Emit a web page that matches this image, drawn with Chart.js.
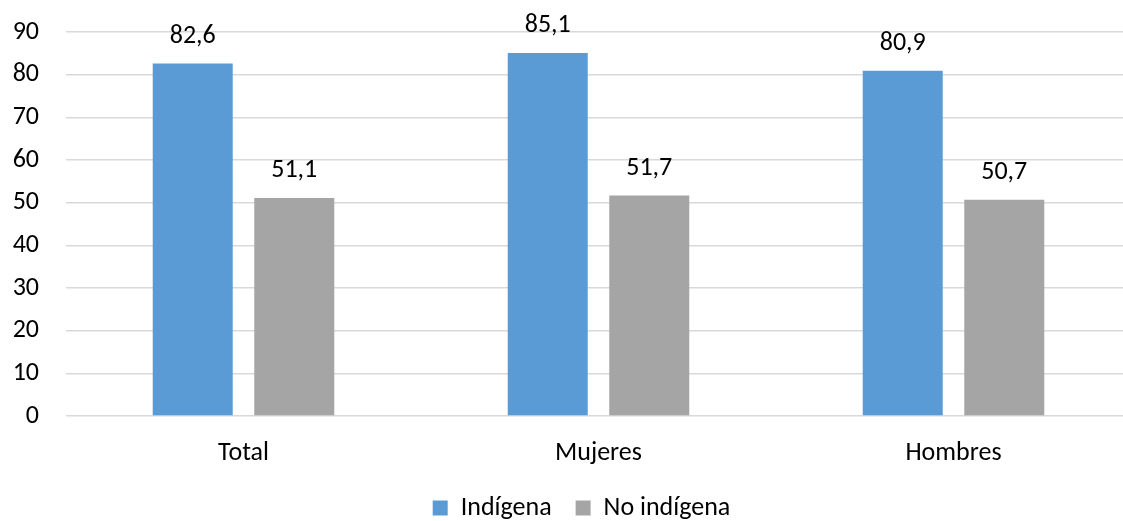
<!DOCTYPE html>
<html>
<head>
<meta charset="utf-8">
<script src="https://cdn.jsdelivr.net/npm/chart.js@4"></script>
<style>
  html, body { margin: 0; padding: 0; background: #fff; overflow: hidden; }
  #wrap { width: 1131px; height: 521px; }
</style>
</head>
<body>
<div id="wrap"><canvas id="chart"></canvas></div>
<script>
// Data
const categories = ['Total', 'Mujeres', 'Hombres'];
const indigena = [82.6, 85.1, 80.9];
const noIndigena = [51.1, 51.7, 50.7];
const seriesNames = ['Indígena', 'No indígena'];
const yTicks = [0, 10, 20, 30, 40, 50, 60, 70, 80, 90];

const FONT = 'Carlito, Calibri, Lato, sans-serif';

// Helper: value labels above bars
const valueLabels = {
    id: 'valueLabels',
    afterDatasetsDraw(chart) {
        const ctx = chart.ctx;
        ctx.save();
        ctx.font = '26px ' + FONT;
        ctx.fillStyle = '#000';
        ctx.textAlign = 'center';
        ctx.textBaseline = 'middle';
        chart.data.datasets.forEach((ds, i) => {
            chart.getDatasetMeta(i).data.forEach((bar, j) => {
                const txt = ds.data[j].toFixed(1).replace('.', ',');
                ctx.fillText(txt, bar.x, bar.y - 27);
            });
        });
        ctx.restore();
    }
};

// Helper: legend keeps wide spacing between items but a short box, nudged right
const legendTweak = {
    id: 'legendTweak',
    afterInit(chart) {
        const lg = chart.legend;
        if (!lg) return;
        const fit = lg.fit.bind(lg);
        lg.fit = function() { fit(); this.height = 50; };
        const draw = lg.draw.bind(lg);
        lg.draw = function() {
            this.left += 16; this.right += 16;
            draw();
            this.left -= 16; this.right -= 16;
        };
    }
};

const chart = new Chart(document.getElementById('chart'), {
    type: 'bar',
    data: {
        labels: categories,
        datasets: [
            { label: seriesNames[0], data: indigena, backgroundColor: '#5B9BD5',
              categoryPercentage: 0.572, barPercentage: 0.788 },
            { label: seriesNames[1], data: noIndigena, backgroundColor: '#A5A5A5',
              categoryPercentage: 0.572, barPercentage: 0.788 }
        ]
    },
    options: {
        responsive: true,
        maintainAspectRatio: false,
        animation: false,
        layout: { padding: { top: 32, left: 0, right: 0, bottom: 0 } },
        plugins: {
            tooltip: { enabled: false },
            legend: {
                position: 'bottom',
                labels: {
                    color: '#000',
                    font: { family: FONT, size: 26 },
                    boxWidth: 15, boxHeight: 15,
                    padding: 24
                }
            }
        },
        scales: {
            x: {
                grid: { display: false },
                border: { display: false },
                ticks: { color: '#000', font: { family: FONT, size: 26 }, padding: 14 },
                afterFit: s => { s.height = 55; s.paddingLeft = 0; s.paddingRight = 0; }
            },
            y: {
                min: 0, max: 90,
                afterBuildTicks: s => { s.ticks = yTicks.map(v => ({ value: v })); },
                grid: { color: '#d9d9d9', lineWidth: 1.5, drawTicks: false },
                border: { display: false },
                ticks: { color: '#000', font: { family: FONT, size: 26 }, padding: 27 },
                afterFit: s => { s.width = 66; s.paddingTop = 0; s.paddingBottom = 0; }
            }
        }
    },
    plugins: [valueLabels, legendTweak]
});
chart.update();
</script>
</body>
</html>
